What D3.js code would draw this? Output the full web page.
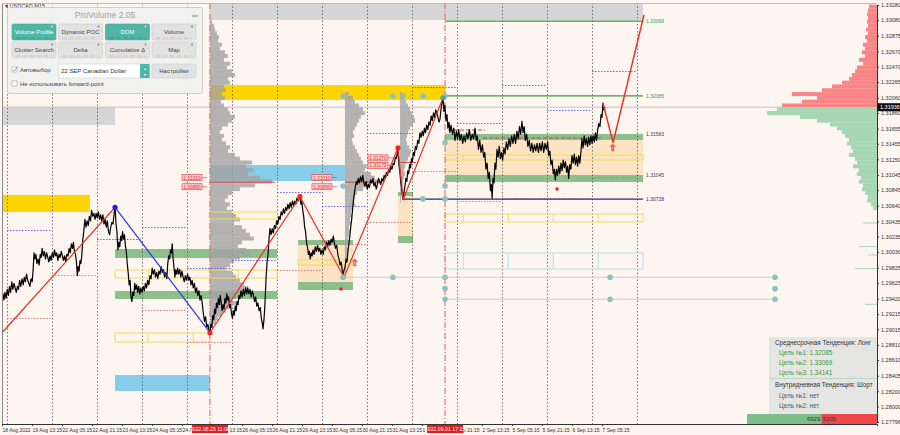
<!DOCTYPE html>
<html><head><meta charset="utf-8">
<script src="https://cdn.jsdelivr.net/npm/d3@7"></script>
<style>body{margin:0;background:#fdf5ef;} svg{display:block;font-family:"Liberation Sans",Arial,sans-serif;}</style>
</head><body><svg id="c" width="900" height="435"></svg>
<script>
// ---------- DATA ----------
const priceTicks = [1.33280,1.33080,1.32875,1.32670,1.32470,1.32265,1.32060,1.31860,1.31655,1.31455,1.31250,1.31045,1.30845,1.30640,1.30435,1.30235,1.30030,1.29825,1.29625,1.29420,1.29215,1.29015,1.28810,1.28610,1.28405,1.28200,1.28000,1.27796];
const timeLabels = ["18 Aug 2022","19 Aug 13:15","22 Aug 05:15","22 Aug 21:15","23 Aug 13:15","24 Aug 05:15","24 Aug 21:15","25 Aug 13:15","26 Aug 05:15","26 Aug 21:15","29 Aug 13:15","30 Aug 05:15","30 Aug 21:15","31 Aug 13:15","1 Sep 05:15","1 Sep 21:15","2 Sep 13:15","5 Sep 05:15","5 Sep 21:15","6 Sep 13:15","7 Sep 05:15"];
const timeHours = [0,16,32,48,64,80,96,112,128,144,160,176,192,208,224,240,256,272,288,304,320];
const daySeparators = [2.75,26.75,50.75,74.75,98.75,122.75,146.75,170.75,194.75,218.75,242.75,266.75,290.75,314.75,338.75];
const markerTimes = [[110.9,"2022.08.25 11:00"],[236.3,"2022.09.01 17:15"]];
const currentPrice = 1.31936;

const priceSeries = [
[0,1.2936],[0.5,1.2948],[1.0,1.2940],[1.6,1.2950],[2.2,1.2942],[2.8,1.2954],[3.4,1.2946],[4.0,1.2958],[4.6,1.2950],[5.2,1.2964],[5.8,1.2954],[6.4,1.2962],[7.0,1.2956],[7.6,1.2950],[8.2,1.2958],[8.8,1.2954],[9.4,1.2966],[10.0,1.2958],[10.7,1.2968],[11.3,1.2960],[11.9,1.2970],[12.5,1.2964],[13.1,1.2974],[13.7,1.2966],[14.3,1.2962],[14.9,1.2958],[15.5,1.2968],[16.1,1.2964],[16.6,1.2980],[17.1,1.3002],[17.6,1.2994],[18.1,1.3000],[18.6,1.2988],[19.2,1.2994],[19.8,1.2986],[20.4,1.3000],[20.9,1.2996],[21.4,1.3008],[22.0,1.2998],[22.6,1.3004],[23.2,1.2994],[23.8,1.3002],[24.4,1.2996],[25.0,1.2990],[25.6,1.2998],[26.2,1.2992],[26.8,1.3002],[27.4,1.2996],[28.0,1.3006],[28.6,1.2998],[29.2,1.3002],[29.8,1.2992],[30.4,1.3000],[31.0,1.2996],[31.6,1.3004],[32.2,1.2998],[32.8,1.2992],[33.4,1.2998],[34.0,1.2990],[34.6,1.3000],[35.2,1.2998],[35.8,1.3008],[36.4,1.3002],[37.0,1.3014],[37.6,1.3008],[38.1,1.3016],[38.6,1.3004],[39.2,1.3000],[39.7,1.2990],[40.2,1.2972],[40.6,1.2984],[41.1,1.2978],[41.6,1.2992],[42.1,1.2988],[42.6,1.3000],[43.1,1.3020],[43.6,1.3030],[44.2,1.3046],[44.8,1.3036],[45.4,1.3044],[46.0,1.3038],[46.6,1.3050],[47.2,1.3044],[47.8,1.3058],[48.4,1.3050],[49.0,1.3054],[49.6,1.3046],[50.2,1.3054],[50.8,1.3048],[51.4,1.3056],[52.0,1.3046],[52.6,1.3052],[53.2,1.3044],[53.8,1.3052],[54.4,1.3040],[55.0,1.3046],[55.6,1.3036],[56.2,1.3044],[56.8,1.3030],[57.4,1.3026],[58.0,1.3036],[58.6,1.3042],[59.2,1.3040],[59.8,1.3054],[60.3,1.3062],
[60.8,1.3040],[61.3,1.3030],[61.8,1.3006],[62.3,1.3016],[62.8,1.3010],[63.3,1.3024],[63.8,1.3018],[64.3,1.3030],[64.8,1.3020],[65.3,1.3026],[65.8,1.3012],[66.3,1.3004],[66.8,1.2988],[67.3,1.2976],[67.8,1.2960],[68.3,1.2966],[68.8,1.2944],[69.3,1.2938],[69.8,1.2950],[70.3,1.2946],[70.8,1.2962],[71.3,1.2954],[71.8,1.2960],[72.3,1.2950],[72.9,1.2958],[73.5,1.2948],[74.1,1.2956],[74.7,1.2950],[75.3,1.2958],[75.9,1.2952],[76.5,1.2962],[77.1,1.2956],[77.7,1.2966],[78.3,1.2960],[78.9,1.2972],[79.5,1.2968],[80.1,1.2982],[80.7,1.2974],[81.3,1.2980],[81.9,1.2970],[82.5,1.2976],[83.1,1.2968],[83.7,1.2978],[84.3,1.2974],[84.9,1.2984],[85.5,1.2976],[86.1,1.2980],[86.7,1.2970],[87.3,1.2976],[87.9,1.2968],[88.4,1.2988],[88.9,1.2998],[89.4,1.2994],[89.9,1.3006],[90.4,1.3002],[90.8,1.3014],[91.2,1.2996],[91.7,1.2984],[92.2,1.2970],[92.7,1.2980],[93.2,1.2974],[93.7,1.2982],[94.2,1.2974],[94.8,1.2980],[95.4,1.2970],[96.0,1.2978],[96.6,1.2970],[97.2,1.2964],[97.8,1.2972],[98.4,1.2966],[99.0,1.2974],[99.6,1.2966],[100.2,1.2970],[100.8,1.2960],[101.4,1.2966],[102.0,1.2956],[102.6,1.2962],[103.2,1.2950],[103.8,1.2956],[104.4,1.2946],[105.0,1.2952],[105.6,1.2940],[106.2,1.2946],[106.8,1.2936],[107.4,1.2922],[108.0,1.2912],[108.6,1.2918],[109.2,1.2904],[109.8,1.2908],[110.4,1.2900],[110.9,1.2897],
[111.4,1.2908],[111.9,1.2904],[112.4,1.2920],[112.9,1.2914],[113.4,1.2928],[113.9,1.2922],[114.4,1.2936],[114.9,1.2930],[115.4,1.2942],[115.9,1.2934],[116.4,1.2946],[116.9,1.2936],[117.4,1.2926],[117.9,1.2934],[118.4,1.2928],[118.9,1.2942],[119.4,1.2936],[119.9,1.2948],[120.4,1.2940],[120.9,1.2944],[121.4,1.2930],[121.9,1.2934],[122.4,1.2922],[122.9,1.2916],[123.4,1.2926],[123.9,1.2920],[124.4,1.2932],[124.9,1.2926],[125.4,1.2938],[125.9,1.2934],[126.4,1.2946],[126.9,1.2942],[127.5,1.2952],[128.1,1.2944],[128.7,1.2954],[129.3,1.2946],[129.9,1.2956],[130.5,1.2948],[131.1,1.2956],[131.7,1.2948],[132.3,1.2954],[132.9,1.2944],[133.5,1.2952],[134.1,1.2946],[134.7,1.2938],[135.3,1.2944],[135.9,1.2932],[136.5,1.2936],[137.1,1.2926],[137.7,1.2930],[138.3,1.2916],[138.8,1.2910],[139.2,1.2902],[139.7,1.2914],[140.1,1.2928],[140.5,1.2950],[140.9,1.2972],[141.4,1.2990],[141.9,1.3000],[142.4,1.3020],[142.9,1.3034],[143.5,1.3026],[144.1,1.3034],[144.7,1.3028],[145.3,1.3038],[145.9,1.3034],[146.5,1.3044],[147.1,1.3040],[147.7,1.3050],[148.3,1.3046],[148.9,1.3056],[149.5,1.3052],[150.1,1.3060],[150.7,1.3054],[151.3,1.3062],[151.9,1.3058],[152.5,1.3066],[153.1,1.3060],[153.7,1.3068],[154.3,1.3062],[154.9,1.3070],[155.5,1.3064],[156.1,1.3070],[156.7,1.3066],[157.3,1.3074],[157.9,1.3070],[158.4,1.3078],[158.9,1.3076],
[159.4,1.3066],[159.9,1.3070],[160.4,1.3058],[160.9,1.3050],[161.4,1.3036],[161.9,1.3030],[162.4,1.3016],[162.9,1.3010],[163.4,1.3000],[163.9,1.3004],[164.4,1.2994],[164.9,1.3002],[165.4,1.2998],[165.9,1.3006],[166.5,1.3000],[167.1,1.3010],[167.7,1.3004],[168.3,1.3012],[168.9,1.3004],[169.5,1.3008],[170.1,1.3000],[170.7,1.3006],[171.3,1.3000],[171.9,1.3010],[172.5,1.3006],[173.1,1.3016],[173.7,1.3010],[174.3,1.3018],[174.9,1.3012],[175.5,1.3020],[176.1,1.3016],[176.7,1.3024],[177.3,1.3014],[177.9,1.3008],[178.5,1.3012],[179.1,1.3000],[179.7,1.2994],[180.3,1.2986],[180.9,1.2990],[181.5,1.2978],[182.0,1.2974],[182.5,1.2980],[183.0,1.2984],[183.5,1.2994],[184.0,1.2990],[184.5,1.3004],[185.0,1.3014],[185.5,1.3024],[186.0,1.3036],[186.5,1.3046],[187.0,1.3060],[187.5,1.3072],[188.0,1.3082],[188.5,1.3090],[189.0,1.3096],[189.5,1.3092],[190.0,1.3100],[190.6,1.3094],[191.2,1.3102],[191.8,1.3096],[192.4,1.3104],[193.0,1.3094],[193.6,1.3090],[194.2,1.3096],[194.8,1.3086],[195.4,1.3092],[196.0,1.3088],[196.6,1.3098],[197.2,1.3094],[197.8,1.3100],[198.4,1.3090],[199.0,1.3094],[199.6,1.3086],[200.2,1.3092],[200.8,1.3100],[201.4,1.3096],[202.0,1.3092],[202.6,1.3100],[203.2,1.3096],[203.8,1.3104],[204.4,1.3100],[205.0,1.3108],[205.6,1.3104],[206.2,1.3112],[206.8,1.3108],[207.4,1.3116],[208.0,1.3112],[208.6,1.3120],[209.2,1.3118],[209.8,1.3128],[210.4,1.3126],[211.2,1.3140],
[211.7,1.3118],[212.2,1.3108],[212.7,1.3094],[213.2,1.3086],[213.9,1.3072],[214.4,1.3082],[214.9,1.3090],[215.4,1.3100],[215.9,1.3096],[216.4,1.3110],[216.9,1.3106],[217.4,1.3118],[217.9,1.3114],[218.4,1.3126],[218.9,1.3122],[219.4,1.3134],[219.9,1.3130],[220.5,1.3142],[221.1,1.3138],[221.7,1.3150],[222.3,1.3146],[222.9,1.3160],[223.5,1.3154],[224.1,1.3162],[224.7,1.3156],[225.3,1.3166],[225.9,1.3160],[226.5,1.3170],[227.1,1.3164],[227.7,1.3174],[228.3,1.3170],[228.9,1.3182],[229.5,1.3176],[230.1,1.3186],[230.7,1.3180],[231.3,1.3190],[231.9,1.3186],[232.5,1.3180],[233.1,1.3174],[233.6,1.3178],[234.1,1.3190],[234.6,1.3198],[235.2,1.3206],
[235.7,1.3188],[236.2,1.3196],[236.8,1.3176],[237.3,1.3184],[237.8,1.3166],[238.4,1.3174],[238.9,1.3160],[239.5,1.3170],[240.2,1.3158],[240.9,1.3166],[241.6,1.3150],[242.3,1.3162],[243.0,1.3152],[243.6,1.3164],[244.3,1.3150],[245.0,1.3158],[245.7,1.3146],[246.4,1.3156],[247.1,1.3148],[247.8,1.3160],[248.5,1.3152],[249.3,1.3164],[250.0,1.3150],[250.8,1.3158],[251.5,1.3152],[252.3,1.3166],[252.9,1.3150],[253.5,1.3156],[254.1,1.3138],[254.8,1.3150],[255.5,1.3134],[256.2,1.3144],[256.9,1.3128],[257.5,1.3134],[258.1,1.3112],[258.7,1.3120],[259.3,1.3100],[259.9,1.3108],[260.5,1.3084],[261.0,1.3092],[261.4,1.3074],[261.9,1.3100],[262.4,1.3094],[262.9,1.3120],[263.4,1.3112],[264.0,1.3138],[264.6,1.3128],[265.2,1.3142],[265.8,1.3126],[266.4,1.3134],[267.0,1.3124],[267.7,1.3140],[268.3,1.3132],[269.0,1.3148],[269.7,1.3138],[270.4,1.3152],[271.1,1.3142],[271.8,1.3156],[272.5,1.3146],[273.2,1.3158],[273.9,1.3146],[274.6,1.3162],[275.3,1.3152],[276.0,1.3168],[276.6,1.3158],[277.3,1.3175],[277.9,1.3160],[278.5,1.3168],[279.1,1.3150],[279.8,1.3158],[280.5,1.3142],[281.2,1.3150],[281.9,1.3136],[282.6,1.3146],[283.3,1.3134],[284.0,1.3144],[284.7,1.3136],[285.4,1.3146],[286.1,1.3134],[286.8,1.3146],[287.5,1.3136],[288.2,1.3148],[288.9,1.3134],[289.6,1.3146],[290.3,1.3138],[291.0,1.3148],[291.6,1.3130],[292.2,1.3136],[292.8,1.3118],[293.4,1.3124],[294.0,1.3106],[294.6,1.3112],[295.1,1.3098],[295.7,1.3112],[296.3,1.3104],[296.9,1.3116],[297.5,1.3106],[298.1,1.3120],[298.7,1.3110],[299.3,1.3124],[299.9,1.3114],[300.5,1.3122],[301.1,1.3108],[301.7,1.3116],[302.2,1.3100],[302.8,1.3118],[303.4,1.3112],[304.0,1.3130],[304.6,1.3120],[305.2,1.3132],[305.8,1.3118],[306.4,1.3128],[307.0,1.3116],[307.6,1.3130],[308.2,1.3120],[308.8,1.3136],[309.3,1.3152],[309.9,1.3140],[310.5,1.3156],[311.1,1.3144],[311.7,1.3152],[312.3,1.3142],[312.9,1.3154],[313.5,1.3144],[314.1,1.3156],[314.7,1.3146],[315.3,1.3156],[315.9,1.3148],[316.5,1.3160],[317.1,1.3150],[317.7,1.3164],[318.3,1.3172],[318.9,1.3168],[319.5,1.3184],[320.0,1.3180],[320.5,1.3199],[321.0,1.3190],[321.6,1.3194]
];

const zigzagUpLeft = [[0,1.2897],[60.3,1.3062]];
const zigzagDown = [[60.3,1.3062],[110.9,1.2897]];
const zigzagUp = [[110.9,1.2897],[158.9,1.3076],[182.4,1.2970],[211.2,1.3140],[213.9,1.3072],[235.2,1.3206]];
const projection = [[320.5,1.3199],[325.9,1.3147],[342.4,1.3315]];

// zones: [h0, h1, priceTop, priceBottom]
const grayZones = [[0,60.3,1.31939,1.31702],[110.9,341.9,1.3334,1.33083]];
const yellowZones = [[0,46.9,1.30782,1.30558],[110.9,236.3,1.32228,1.32031]];
const blueZones = [[110.9,182.9,1.31176,1.30966],[60.3,110.9,1.28414,1.28204]];
const tanZones = [[236.3,341.9,1.31505,1.31045],[157.9,187.2,1.30124,1.29637],[211.2,219.2,1.30769,1.30242]];
const greenZones = [[60.3,146.7,1.30071,1.29953],[60.3,146.7,1.29519,1.29414],[157.9,187.2,1.30190,1.30124],[157.9,187.2,1.29637,1.29532],[211.2,219.2,1.30821,1.30769],[211.2,219.2,1.30242,1.30150],[236.3,341.9,1.31584,1.31505],[236.3,341.9,1.31045,1.30952]];
// outlined boxes: [priceTop, priceBottom, [boundaries]]
const yellowBoxes = [[1.30532,1.30427,[236.3,246,270,294,318,341.9]],[1.31308,1.31242,[236.3,246,341.9]],[1.30558,1.30466,[110.9,126,146.7]],[1.29795,1.29690,[60.3,78,110.9,126,146.7]],[1.28967,1.28848,[60.3,78,102,110.9]],[1.29927,1.29861,[157.9,173.3,187.2]]];
const blueBoxes = [[1.30019,1.29808,[236.3,246,270,294,318,341.9]]];
// level lines: [h0, h1, price, label]
const greenLevels = [[236.3,341.9,1.33069,"1.33069"],[236.3,341.9,1.32085,"1.32085"]];
const zoneLabels = [[1.31583,"1.31583"],[1.31045,"1.31045"]];
const navyLevel = [213.9,341.9,1.30728,"1.30728"];
// dotted segments: [h0,h1,price,kind]
const dotted = [[2.7,26.7,1.30321,"b"],[2.7,26.7,1.29164,"r"],[26.7,50.7,1.29729,"r"],[50.7,74.7,1.30203,"b"],[74.7,98.7,1.30361,"b"],[74.7,98.7,1.29269,"r"],[98.7,122.7,1.29821,"b"],[98.7,122.7,1.28848,"r"],[122.7,146.7,1.29927,"b"],[146.7,170.7,1.29795,"r"],[146.7,170.7,1.30821,"b"],[170.7,194.7,1.30637,"b"],[170.7,194.7,1.30137,"r"],[194.7,218.7,1.30427,"r"],[194.7,218.7,1.31597,"b"],[218.7,242.7,1.32202,"b"],[218.7,242.7,1.31097,"r"],[242.7,266.7,1.31728,"b"],[242.7,266.7,1.30703,"r"],[266.7,290.7,1.32228,"b"],[266.7,314.7,1.30742,"r"],[290.7,314.7,1.31899,"b"],[314.7,338.7,1.32409,"b"],[314.7,338.7,1.31018,"r"]];
const dashedBrown = [[256.5,320.5,1.31531],[237.9,257.6,1.31636]];
// volume profiles
const profile1 = {h:110.9, top:1.3306, step:0.0005, vols:[2,4,5,7,9,8,12,10,15,18,14,20,17,22,25,18,20,14,16,12,15,11,14,18,20,25,22,18,12,10,14,12,16,20,18,25,30,42,36,44,38,50,62,45,30,22,18,15,20,17,22,26,30,24,32,36,40,44,32,28,36,40,30,24,20,16,22,26,30,34,38,32,26,22,28,20,16,12,8,6,3]};
const profile2 = {h:182.9, top:1.3211, step:0.0005, vols:[4,8,10,14,18,20,16,14,12,10,8,9,7,8,10,12,14,16,18,22,20,26,30,35,24,18,12,10,8,10,8,6,7,5,6,4,5,4,3,3,2,3,2,2,2,1,1,1,1]};
const profile3 = {h:212.3, top:1.3211, step:0.0005, vols:[2,4,6,8,10,12,14,15,13,10,8,7,6,7,9,11,10,8,6,5,4,5,4,3,3,2,2,1,1]};
const pocLines = [[110.9,145.6,1.3095],[182.9,202.7,1.3095],[212.3,220.8,1.3121]];
const pocTags = [[96,1.3101,"1.31010"],[96,1.3089,"1.30890"],[165.3,1.3101,"1.31010"],[165.3,1.3089,"1.30890"],[195.2,1.3127,"1.31270"],[195.2,1.3117,"1.31170"]];
// market depth (right side)
const askStart = 1.3196, bidStart = 1.3191, depthStep = 0.0005;
const askVols = [95,75,60,85,55,45,35,28,25,22,20,14,18,12,15,12,14,10,12,9,11,9,10,9,10,9,8];
const bidVols = [100,110,77,60,47,40,35,32,28,30,26,24,28,22,20,24,18,20,16,18,14,15,12,9,10,6,4];
const bidSpikes = [[1.3042,14],[1.3011,18],[1.3000,9],[1.2982,22],[1.2935,12],[1.2860,8],[1.2840,30],[1.2820,24]];
// dots
const tealDots = [[181.9,1.32083],[208.5,1.32083],[213.9,1.32083],[224.5,1.32083],[236.3,1.32083],[236.3,1.3147],[213.9,1.3140],[181.9,1.3090],[236.3,1.3090],[224.5,1.3073],[236.3,1.3073],[208.5,1.2970],[236.3,1.2970],[181.9,1.2970],[236.3,1.2955],[236.3,1.2941],[324.3,1.2970],[324.3,1.2941],[412.3,1.2970],[412.3,1.2955],[412.3,1.2941]];
const grayLines = [[181.9,412.3,1.2970],[236.3,412.3,1.2941]];
const upArrows = [[325.9,1.31413],[188.3,1.29900]];
const redMarks = [[180.8,1.29545],[296,1.30860]];
const pivotDots = [[60.3,1.3062,"#1a1aff"],[110.9,1.2897,"#ff2020"],[158.9,1.3076,"#ff2020"],[211.2,1.3140,"#ff2020"],[235.2,1.3206,"#5a9fb0"]];
// info box
const mediumTrend = "Среднесрочная Тенденция: Лонг";
const targetsLong = ["Цель №1: 1.32085","Цель №2: 1.33069","Цель №3: 1.34141"];
const intradayTrend = "Внутридневная Тенденция: Шорт";
const targetsShort = ["Цель №1: нет","Цель №2: нет"];
const volumeBalance = [6929, 5205];
// panel
const panelButtons = [["Volume Profile",true],["Dynamic POC",false],["DOM",true],["Volume",false],["Cluster Search",false],["Delta",false],["Cumulative Δ",false],["Map",false]];

// ---------- SCALES ----------
const svg = d3.select("#c");
const x = d3.scaleLinear().domain([0,466.67]).range([2,877]);
const y = d3.scaleLinear().domain([1.27796,1.33280]).range([422,5]);
const volX = d3.scaleLinear().domain([0,100]).range([0,100]);

svg.append("rect").attr("width",900).attr("height",435).attr("fill","#fdf5ef");
svg.append("defs").append("clipPath").attr("id","plot").append("rect").attr("x",2).attr("y",3).attr("width",875).attr("height",421);
const g = svg.append("g").attr("clip-path","url(#plot)");

function zones(arr, fill, op){
  g.selectAll(null).data(arr).enter().append("rect")
   .attr("x",d=>x(d[0])).attr("width",d=>x(d[1])-x(d[0]))
   .attr("y",d=>y(d[2])).attr("height",d=>y(d[3])-y(d[2]))
   .attr("fill",fill).attr("opacity",op||1);
}
zones(grayZones,"#d6d6d6");
zones(tanZones,"#fbe3c4");
zones(yellowZones,"#ffd400");
zones(blueZones,"#87cde9");
zones(greenZones,"#8dbf8d");

// grid
g.selectAll(null).data(daySeparators).enter().append("line")
 .attr("x1",d=>Math.round(x(d))+0.5).attr("x2",d=>Math.round(x(d))+0.5).attr("y1",3).attr("y2",424)
 .attr("stroke","#555").attr("stroke-width",0.8).attr("stroke-dasharray","1.5,2");

// current price line
g.append("line").attr("x1",2).attr("x2",877).attr("y1",y(currentPrice)).attr("y2",y(currentPrice)).attr("stroke","#c4c4c4").attr("stroke-width",1);

// volume profiles
function profile(p){
  const stepPx = y(0) - y(p.step);
  g.selectAll(null).data(p.vols).enter().append("rect")
   .attr("x",x(p.h)).attr("width",d=>volX(d))
   .attr("y",(d,i)=>y(p.top - i*p.step) - stepPx/2).attr("height",stepPx+0.2)
   .attr("fill","#a3a3a3").attr("opacity",0.8);
}
[profile1,profile2,profile3].forEach(profile);

// market depth
const dStep = y(0)-y(depthStep);
g.selectAll(null).data(askVols).enter().append("rect")
 .attr("x",d=>877-volX(d)).attr("width",d=>volX(d))
 .attr("y",(d,i)=>y(askStart+i*depthStep)-dStep/2).attr("height",dStep+0.2).attr("fill","#f98686");
g.selectAll(null).data(bidVols).enter().append("rect")
 .attr("x",d=>877-volX(d)).attr("width",d=>volX(d))
 .attr("y",(d,i)=>y(bidStart-i*depthStep)-dStep/2).attr("height",dStep+0.2).attr("fill","#a6d6b4");
g.selectAll(null).data(bidSpikes).enter().append("rect")
 .attr("x",d=>877-volX(d[1])).attr("width",d=>volX(d[1])).attr("y",d=>y(d[0])).attr("height",1).attr("fill","#a6d6b4");

// outlined boxes
function boxes(arr, col){
  arr.forEach(b=>{
    const b0=b[2][0], b1=b[2][b[2].length-1];
    g.append("rect").attr("x",x(b0)).attr("width",x(b1)-x(b0)).attr("y",y(b[0])).attr("height",y(b[1])-y(b[0]))
     .attr("fill","none").attr("stroke",col).attr("stroke-width",1);
    g.selectAll(null).data(b[2].slice(1,-1)).enter().append("line")
     .attr("x1",d=>x(d)).attr("x2",d=>x(d)).attr("y1",y(b[0])).attr("y2",y(b[1])).attr("stroke",col);
  });
}
boxes(yellowBoxes,"#f2dc5a");
boxes(blueBoxes,"#b9dde6");

// dotted segments
g.selectAll(null).data(dotted).enter().append("line")
 .attr("x1",d=>x(d[0])).attr("x2",d=>x(d[1])).attr("y1",d=>Math.round(y(d[2]))+0.5).attr("y2",d=>Math.round(y(d[2]))+0.5)
 .attr("stroke",d=>d[3]==="b"?"#5b5bd6":"#e07070").attr("stroke-width",0.9).attr("stroke-dasharray","1.5,1.5");
g.selectAll(null).data(dashedBrown).enter().append("line")
 .attr("x1",d=>x(d[0])).attr("x2",d=>x(d[1])).attr("y1",d=>y(d[2])).attr("y2",d=>y(d[2]))
 .attr("stroke","#b5504a").attr("stroke-width",1.2).attr("stroke-dasharray","4,2");

// gray lines with dots
g.selectAll(null).data(grayLines).enter().append("line")
 .attr("x1",d=>x(d[0])).attr("x2",d=>x(d[1])).attr("y1",d=>y(d[2])).attr("y2",d=>y(d[2]))
 .attr("stroke","#cfcfcf").attr("stroke-width",1);

// level lines
g.selectAll(null).data(greenLevels).enter().append("line")
 .attr("x1",d=>x(d[0])).attr("x2",d=>x(d[1])).attr("y1",d=>y(d[2])).attr("y2",d=>y(d[2]))
 .attr("stroke","#3f9a3f").attr("stroke-width",1.2);
g.append("line").attr("x1",x(navyLevel[0])).attr("x2",x(navyLevel[1])).attr("y1",y(navyLevel[2])).attr("y2",y(navyLevel[2]))
 .attr("stroke","#2a2a7a").attr("stroke-width",1.2);

// POC lines
g.selectAll(null).data(pocLines).enter().append("line")
 .attr("x1",d=>x(d[0])).attr("x2",d=>x(d[1])).attr("y1",d=>y(d[2])).attr("y2",d=>y(d[2]))
 .attr("stroke","#d94040").attr("stroke-width",1);

// marker verticals
g.selectAll(null).data(markerTimes).enter().append("line")
 .attr("x1",d=>x(d[0])).attr("x2",d=>x(d[0])).attr("y1",3).attr("y2",424)
 .attr("stroke","#e06060").attr("stroke-width",1).attr("stroke-dasharray","6,2,1,2");

// price
const line = d3.line().x(d=>x(d[0])).y(d=>y(d[1]));
g.append("path").datum(priceSeries).attr("d",line).attr("fill","none").attr("stroke","#000").attr("stroke-width",1.2).attr("stroke-linejoin","round");

// zigzags
g.append("path").datum(zigzagUpLeft).attr("d",line).attr("fill","none").attr("stroke","#e8302a").attr("stroke-width",1.2);
g.append("path").datum(zigzagDown).attr("d",line).attr("fill","none").attr("stroke","#2a3ad8").attr("stroke-width",1.2);
g.append("path").datum(zigzagUp).attr("d",line).attr("fill","none").attr("stroke","#e8302a").attr("stroke-width",1.2);
g.append("path").datum(projection).attr("d",line).attr("fill","none").attr("stroke","#e8302a").attr("stroke-width",1.5);

// dots
g.selectAll(null).data(tealDots).enter().append("circle")
 .attr("cx",d=>x(d[0])).attr("cy",d=>y(d[1])).attr("r",2.8).attr("fill","#8fc0bc");
g.selectAll(null).data(pivotDots).enter().append("circle")
 .attr("cx",d=>x(d[0])).attr("cy",d=>y(d[1])).attr("r",2.6).attr("fill",d=>d[2]);
g.selectAll(null).data(redMarks).enter().append("rect")
 .attr("x",d=>x(d[0])-1.5).attr("y",d=>y(d[1])-1.5).attr("width",3).attr("height",3).attr("fill","#e82020");
g.selectAll(null).data(upArrows).enter().append("text")
 .attr("x",d=>x(d[0])).attr("y",d=>y(d[1])+4).attr("text-anchor","middle").attr("font-size",9).attr("fill","none")
 .attr("stroke","#e05050").attr("stroke-width",0.6).text("⇧");

// POC tags
pocTags.forEach(t=>{
  const tx=x(t[0]), ty=y(t[1]);
  g.append("rect").attr("x",tx).attr("y",ty-3).attr("width",20).attr("height",6).attr("fill","#fbd0d0").attr("stroke","#e05050").attr("stroke-width",0.7);
  g.append("text").attr("x",tx+10).attr("y",ty+2).attr("text-anchor","middle").attr("font-size",4.8).attr("fill","#e03030").text(t[2]);
  g.append("line").attr("x1",tx+20).attr("x2",tx+25).attr("y1",ty).attr("y2",ty).attr("stroke","#e05050").attr("stroke-width",0.7);
});

// level labels
const lvlLab = svg.append("g").attr("font-size",5).attr("fill","#444");
greenLevels.forEach(d=>lvlLab.append("text").attr("x",x(d[1])+3).attr("y",y(d[2])+1.8).attr("fill","#3f9a3f").text(d[3]));
zoneLabels.forEach(d=>lvlLab.append("text").attr("x",x(341.9)+3).attr("y",y(d[0])+1.8).text(d[1]));
lvlLab.append("text").attr("x",x(navyLevel[1])+3).attr("y",y(navyLevel[2])+1.8).attr("fill","#2a2a7a").text(navyLevel[3]);

// frame
svg.append("line").attr("x1",2.5).attr("x2",2.5).attr("y1",3).attr("y2",424).attr("stroke","#888");
svg.append("line").attr("x1",2).attr("x2",877).attr("y1",3.5).attr("y2",3.5).attr("stroke","#bbb");

// axes
const ay = svg.append("g").attr("transform","translate(877,0)")
 .call(d3.axisRight(y).tickValues(priceTicks).tickSize(2).tickFormat(d3.format(".5f")));
ay.select(".domain").attr("stroke","#333");
ay.selectAll("text").attr("font-size",5.5).attr("fill","#333").attr("x",4);
ay.selectAll("line").attr("stroke","#333");

const ax = svg.append("g").attr("transform","translate(0,424)")
 .call(d3.axisBottom(x).tickValues(timeHours).tickSize(2).tickFormat((d,i)=>timeLabels[i]));
ax.select(".domain").attr("stroke","#333");
ax.selectAll("text").attr("font-size",5).attr("fill","#333").attr("text-anchor","start").attr("y",4);
ax.selectAll("line").attr("stroke","#333");

// time markers on axis
markerTimes.forEach(m=>{
  svg.append("rect").attr("x",x(m[0])-18).attr("y",425).attr("width",36).attr("height",8).attr("fill","#e51c1c");
  svg.append("text").attr("x",x(m[0])).attr("y",431.3).attr("text-anchor","middle").attr("font-size",5.2).attr("fill","#fff").text(m[1]);
});
// current price tag
svg.append("rect").attr("x",877).attr("y",y(currentPrice)-4).attr("width",23).attr("height",8).attr("fill","#111");
svg.append("text").attr("x",880).attr("y",y(currentPrice)+2).attr("font-size",5.5).attr("fill","#fff").text(d3.format(".5f")(currentPrice));

// volume balance bar
const balTotal = volumeBalance[0]+volumeBalance[1];
const bx = d3.scaleLinear().domain([0,balTotal]).range([747,877]);
svg.append("rect").attr("x",bx(0)).attr("y",414).attr("width",bx(volumeBalance[0])-bx(0)).attr("height",10).attr("fill","#7dbf8c");
svg.append("rect").attr("x",bx(volumeBalance[0])).attr("y",414).attr("width",bx(balTotal)-bx(volumeBalance[0])).attr("height",10).attr("fill","#f04848");
svg.append("text").attr("x",bx(volumeBalance[0])-1).attr("y",421).attr("text-anchor","end").attr("font-size",6).attr("fill","#333").text(volumeBalance[0]);
svg.append("text").attr("x",bx(volumeBalance[0])+1.5).attr("y",421).attr("font-size",6).attr("fill","#333").text(volumeBalance[1]);

// info box
const ib = svg.append("g");
ib.append("rect").attr("x",769).attr("y",337).attr("width",108).attr("height",77).attr("fill","#e3e3e3").attr("opacity",0.92);
ib.append("line").attr("x1",769).attr("x2",877).attr("y1",378.5).attr("y2",378.5).attr("stroke","#b9d9c0");
ib.append("text").attr("x",775).attr("y",345).attr("font-size",6.3).attr("fill","#333").text(mediumTrend);
targetsLong.forEach((t,i)=>ib.append("text").attr("x",779).attr("y",355+i*10).attr("font-size",6.3).attr("fill","#3c9a3c").text(t));
ib.append("text").attr("x",775).attr("y",387).attr("font-size",6.3).attr("fill","#333").text(intradayTrend);
targetsShort.forEach((t,i)=>ib.append("text").attr("x",779).attr("y",398+i*9.5).attr("font-size",6.3).attr("fill","#555").text(t));

// symbol label
svg.append("text").attr("x",5).attr("y",7.5).attr("font-size",5.5).attr("fill","#333").text("▾ USDCAD,M15");

// panel
const pn = svg.append("g");
pn.append("rect").attr("x",7.5).attr("y",7.5).attr("width",195).attr("height",86).attr("rx",2).attr("fill","#f1f1f1").attr("stroke","#cfcfcf").attr("opacity",0.97);
pn.append("text").attr("x",105).attr("y",17.5).attr("text-anchor","middle").attr("font-size",8.5).attr("fill","#a0a0a0").text("ProVolume 2.05");
pn.append("line").attr("x1",192).attr("x2",198).attr("y1",16).attr("y2",16).attr("stroke","#888");
const bxs=[12,58.5,105.5,152], bys=[24,42];
panelButtons.forEach((b,i)=>{
  const bx0=bxs[i%4], by0=bys[Math.floor(i/4)], w=44, h=16;
  pn.append("rect").attr("x",bx0).attr("y",by0).attr("width",w).attr("height",h).attr("rx",1.5)
    .attr("fill",b[1]?"#4fb5a5":"#e2e2e2").attr("stroke",b[1]?"#47a595":"#cfcfcf").attr("stroke-width",0.6);
  pn.append("text").attr("x",bx0+w/2).attr("y",by0+10).attr("text-anchor","middle").attr("font-size",6)
    .attr("fill",b[1]?"#fff":"#444").text(b[0]);
  pn.append("circle").attr("cx",bx0+w-4).attr("cy",by0+2.5).attr("r",1).attr("fill",b[1]?"#ddd":"#888");
  pn.append("line").attr("x1",bx0+4).attr("x2",bx0+w-4).attr("y1",by0+h-2).attr("y2",by0+h-2)
    .attr("stroke",b[1]?"#3a8f82":"#d8b0b0").attr("stroke-width",0.8).attr("stroke-dasharray","4,3");
});
pn.append("rect").attr("x",12).attr("y",67).attr("width",5).attr("height",5).attr("fill","#fff").attr("stroke","#999").attr("stroke-width",0.5);
pn.append("path").attr("d","M12.8,69.5 L14.3,71.2 L17.5,66.5").attr("fill","none").attr("stroke","#4fb5a5").attr("stroke-width",0.9);
pn.append("text").attr("x",20).attr("y",71.5).attr("font-size",6).attr("fill","#444").text("Автовыбор");
pn.append("rect").attr("x",58.5).attr("y",64).attr("width",91).attr("height",14).attr("fill","#fff").attr("stroke","#cfcfcf").attr("stroke-width",0.6);
pn.append("rect").attr("x",140).attr("y",64).attr("width",9.5).attr("height",14).attr("fill","#4fb5a5");
pn.append("text").attr("x",144.8).attr("y",70).attr("text-anchor","middle").attr("font-size",4).attr("fill","#fff").text("▴");
pn.append("text").attr("x",144.8).attr("y",75.5).attr("text-anchor","middle").attr("font-size",4).attr("fill","#fff").text("▾");
pn.append("text").attr("x",61).attr("y",73).attr("font-size",6).attr("fill","#333").text("22 SEP Canadian Dollar");
pn.append("rect").attr("x",152).attr("y",64).attr("width",44).attr("height",14).attr("rx",1.5).attr("fill","#e2e2e2").attr("stroke","#cfcfcf").attr("stroke-width",0.6);
pn.append("text").attr("x",174).attr("y",73).attr("text-anchor","middle").attr("font-size",6).attr("fill","#444").text("Настройки");
pn.append("rect").attr("x",12).attr("y",81).attr("width",5).attr("height",5).attr("fill","#fff").attr("stroke","#999").attr("stroke-width",0.5);
pn.append("text").attr("x",20).attr("y",85.5).attr("font-size",6).attr("fill","#444").text("Не использовать forward-point");
</script></body></html>
